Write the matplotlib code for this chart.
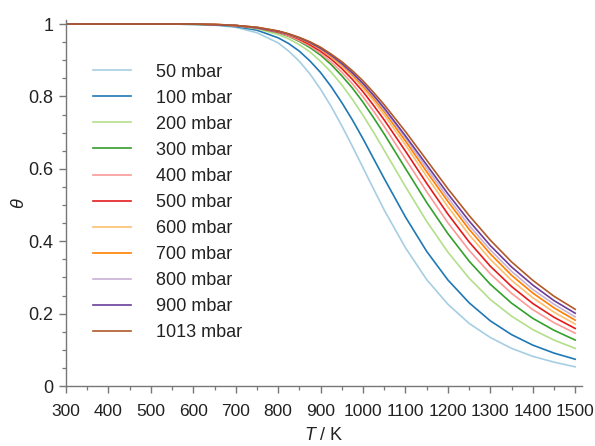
import matplotlib
matplotlib.use("Agg")
import matplotlib.pyplot as plt
from matplotlib.ticker import MultipleLocator

plt.rcParams["font.family"] = ["Liberation Sans", "DejaVu Sans"]
plt.rcParams["mathtext.fontset"] = "custom"
plt.rcParams["mathtext.rm"] = "Liberation Sans"
plt.rcParams["mathtext.it"] = "Liberation Sans:italic"

# Temperature grid (K)
temperature = [300, 550, 600, 650, 700, 750, 800, 825, 850, 875, 900, 925, 950,
               975, 1000, 1025, 1050, 1100, 1150, 1200, 1250, 1300, 1350, 1400,
               1450, 1500]

pressure_labels = ["50 mbar", "100 mbar", "200 mbar", "300 mbar", "400 mbar",
                   "500 mbar", "600 mbar", "700 mbar", "800 mbar", "900 mbar",
                   "1013 mbar"]

# Coverage theta at each temperature, one list per pressure
theta_50 = [1.0, 1.0, 0.999, 0.997, 0.991, 0.976, 0.948, 0.925, 0.897, 0.862,
            0.820, 0.772, 0.719, 0.662, 0.603, 0.544, 0.486, 0.382, 0.294, 0.226,
            0.173, 0.134, 0.104, 0.082, 0.066, 0.053]
theta_100 = [1.0, 1.0, 0.999, 0.998, 0.993, 0.983, 0.962, 0.946, 0.925, 0.898,
             0.866, 0.827, 0.783, 0.735, 0.683, 0.628, 0.573, 0.467, 0.372, 0.293,
             0.230, 0.180, 0.142, 0.113, 0.091, 0.074]
theta_200 = [1.0, 1.0, 0.999, 0.998, 0.995, 0.987, 0.971, 0.959, 0.943, 0.923,
             0.897, 0.867, 0.832, 0.792, 0.748, 0.701, 0.651, 0.551, 0.455, 0.370,
             0.298, 0.239, 0.193, 0.156, 0.127, 0.104]
theta_300 = [1.0, 1.0, 1.0, 0.998, 0.996, 0.989, 0.976, 0.966, 0.952, 0.935,
             0.914, 0.888, 0.857, 0.823, 0.784, 0.741, 0.696, 0.601, 0.507, 0.421,
             0.345, 0.281, 0.229, 0.187, 0.154, 0.127]
theta_400 = [1.0, 1.0, 1.0, 0.998, 0.996, 0.989, 0.977, 0.967, 0.954, 0.939,
             0.919, 0.895, 0.867, 0.835, 0.799, 0.759, 0.717, 0.627, 0.537, 0.451,
             0.375, 0.310, 0.256, 0.211, 0.175, 0.146]
theta_500 = [1.0, 1.0, 1.0, 0.999, 0.996, 0.990, 0.978, 0.970, 0.958, 0.943,
             0.925, 0.903, 0.877, 0.847, 0.813, 0.775, 0.735, 0.649, 0.560, 0.475,
             0.398, 0.331, 0.275, 0.228, 0.190, 0.159]
theta_600 = [1.0, 1.0, 1.0, 0.999, 0.996, 0.991, 0.980, 0.971, 0.961, 0.947,
             0.930, 0.909, 0.884, 0.856, 0.823, 0.788, 0.749, 0.666, 0.579, 0.495,
             0.418, 0.350, 0.292, 0.244, 0.204, 0.171]
theta_700 = [1.0, 1.0, 1.0, 0.999, 0.996, 0.991, 0.980, 0.972, 0.961, 0.948,
             0.931, 0.911, 0.888, 0.860, 0.829, 0.795, 0.758, 0.677, 0.592, 0.510,
             0.433, 0.365, 0.306, 0.257, 0.216, 0.182]
theta_800 = [1.0, 1.0, 1.0, 0.999, 0.996, 0.991, 0.980, 0.972, 0.962, 0.949,
             0.932, 0.913, 0.890, 0.863, 0.833, 0.800, 0.763, 0.685, 0.602, 0.520,
             0.444, 0.376, 0.317, 0.267, 0.226, 0.191]
theta_900 = [1.0, 1.0, 1.0, 0.998, 0.996, 0.990, 0.980, 0.972, 0.962, 0.949,
             0.933, 0.914, 0.891, 0.865, 0.836, 0.803, 0.768, 0.691, 0.611, 0.531,
             0.456, 0.388, 0.329, 0.279, 0.236, 0.201]
theta_1013 = [1.0, 1.0, 1.0, 0.999, 0.996, 0.991, 0.981, 0.973, 0.963, 0.951,
              0.936, 0.917, 0.896, 0.871, 0.843, 0.811, 0.777, 0.703, 0.624, 0.545,
              0.471, 0.403, 0.343, 0.292, 0.248, 0.212]

series = [theta_50, theta_100, theta_200, theta_300, theta_400, theta_500,
          theta_600, theta_700, theta_800, theta_900, theta_1013]

colors = ["#a6cee3", "#1f78b4", "#b2df8a", "#33a02c", "#fb9a99", "#e31a1c",
          "#fdbf6f", "#ff7f00", "#cab2d6", "#6a3d9a", "#b15928"]

fig = plt.figure(figsize=(5.95, 4.46), dpi=100)
ax = fig.add_axes([0.1109, 0.1345, 0.8672, 0.8197])

for vals, lab, col in zip(series, pressure_labels, colors):
    ax.plot(temperature, vals, color=col, lw=1.2, label=lab)

ax.set_xlim(300, 1516)
ax.set_ylim(0, 1.01)

ax.xaxis.set_major_locator(MultipleLocator(100))
ax.xaxis.set_minor_locator(MultipleLocator(50))
ax.yaxis.set_minor_locator(MultipleLocator(0.05))
ax.set_yticks([0, 0.2, 0.4, 0.6, 0.8, 1.0])
ax.set_yticklabels(["0", "0.2", "0.4", "0.6", "0.8", "1"])

axis_gray = "#777777"
for side in ("top", "right"):
    ax.spines[side].set_visible(False)
for side in ("left", "bottom"):
    ax.spines[side].set_color(axis_gray)
    ax.spines[side].set_linewidth(1.0)

ax.tick_params(which="major", direction="out", length=5, width=1.0,
               color=axis_gray, labelcolor="#222222")
ax.tick_params(axis="x", which="major", pad=8, labelsize=12.5)
ax.tick_params(axis="y", which="major", pad=4, labelsize=13)
ax.tick_params(which="minor", direction="out", length=3, width=0.9,
               color=axis_gray)

ax.set_xlabel("$T$ / K", fontsize=13, color="#222222", labelpad=6)
ax.set_ylabel(r"$\theta$", fontsize=13, color="#222222", labelpad=0)

leg = ax.legend(loc="upper left", bbox_to_anchor=(0.052, 0.8816), frameon=False,
                fontsize=13, handlelength=2.1, handletextpad=1.4,
                labelspacing=0.50, borderpad=0, borderaxespad=0)
for t in leg.get_texts():
    t.set_color("#222222")

fig.savefig("out.png", dpi=100)
